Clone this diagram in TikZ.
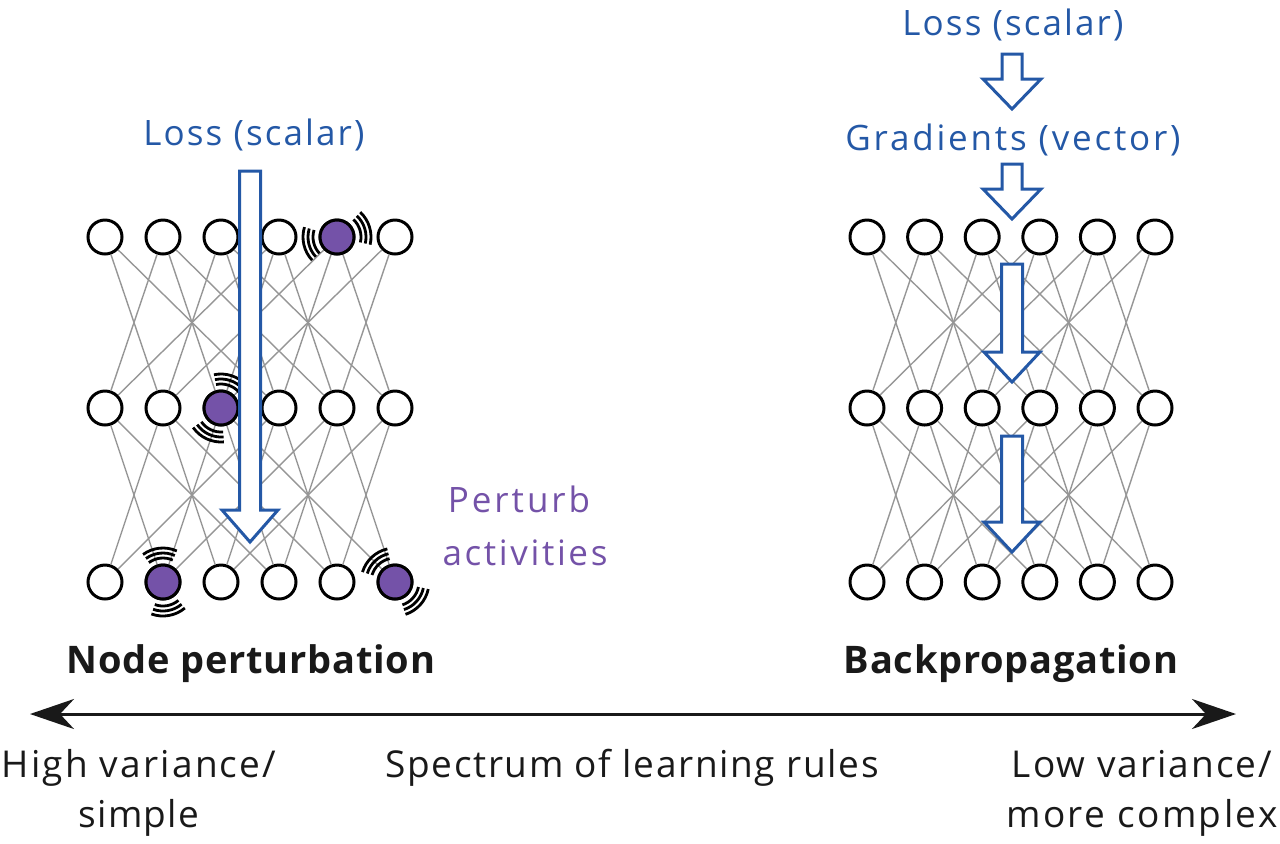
\documentclass[tikz,border=0pt]{standalone}
\usepackage{fontspec}
\setmainfont{Open Sans}
\usetikzlibrary{arrows.meta}
\definecolor{lblue}{RGB}{36,88,166}
\definecolor{purp}{RGB}{116,82,168}
\definecolor{edgegray}{RGB}{150,150,150}
\tikzset{
  neuron/.style={circle,draw=black,line width=1.5pt,fill=white,minimum size=17pt,inner sep=0pt},
  edge/.style={draw=edgegray,line width=0.7pt},
  barrow/.style={draw=lblue,fill=white,line width=1.5pt,line join=miter},
  wave/.style={draw=black,line width=1.4pt},
  lab/.style={anchor=base,inner sep=0pt},
  bluelab/.style={lab,text=lblue,font=\fontsize{17.5}{20}\selectfont\addfontfeature{LetterSpace=#1}},
  purplab/.style={lab,text=purp,font=\fontsize{17.5}{20}\selectfont\addfontfeature{LetterSpace=#1}},
  boldlab/.style={lab,text=black!90,font=\fontsize{19}{24}\bfseries\selectfont\addfontfeature{LetterSpace=#1}},
  axislab/.style={lab,text=black!90,font=\fontsize{18.5}{22}\selectfont\addfontfeature{LetterSpace=#1}},
}
\newcommand\blockarrow[6]{%
  \draw[barrow] (#1-#5,#2) -- (#1+#5,#2) -- (#1+#5,#3) -- (#1+#6,#3) -- (#1,#4) -- (#1-#6,#3) -- (#1-#5,#3) -- cycle;}
\newcommand\wavesat[2]{%
  \foreach \rr in {12,14.5,17}{%
    \draw[wave] (#1.center) ++(#2-30:\rr pt) arc[start angle=#2-30,end angle=#2+30,radius=\rr pt];}}
\begin{document}
\begin{tikzpicture}[x=0.5pt,y=-0.5pt]
\useasboundingbox (0,0) rectangle (1280,843);
% neurons
\foreach \net/\xo/\dx in {L/105/58,R/867/57.6}{
  \foreach \r/\yy in {1/237,2/408,3/582}{
    \foreach \i in {1,...,6}{
      \node[neuron] (\net\r-\i) at ({\xo+(\i-1)*\dx},\yy) {};
    }}}
% connections
\foreach \net in {L,R}{
  \foreach \a/\b in {1/2,2/3}{
    \foreach \i in {1,...,6}{
      \foreach \d in {-3,-1,1,3}{
        \pgfmathtruncatemacro\j{\i+\d}
        \ifnum\j>0 \ifnum\j<7 \draw[edge] (\net\a-\i) -- (\net\b-\j); \fi\fi
      }}}}
% perturbed neurons
\foreach \p in {L1-5,L2-3,L3-2,L3-6}{
  \path[fill=purp,draw=black,line width=1.5pt] (\p.center) circle[radius=8.5pt];}
\wavesat{L1-5}{193}\wavesat{L1-5}{17}
\wavesat{L2-3}{72}\wavesat{L2-3}{245}
\wavesat{L3-2}{96}\wavesat{L3-2}{280}
\wavesat{L3-6}{133}\wavesat{L3-6}{318}
% block arrows
\blockarrow{250}{171}{510}{542}{10.5}{28}
\blockarrow{1012}{54}{79}{109}{10}{29}
\blockarrow{1012}{164}{189}{219}{10}{29}
\blockarrow{1012}{264}{352}{382}{10.5}{28}
\blockarrow{1012}{436}{522}{552}{10.5}{28}
% labels
\node[bluelab=6] (lossL) at (254,145) {Loss (scalar)};
\node[bluelab=6] (lossR) at (1013,35) {Loss (scalar)};
\node[bluelab=8] (grad) at (1013,150) {Gradients (vector)};
\node[purplab=8.5] (pert1) at (519,512) {Perturb};
\node[purplab=7.5] (pert2) at (525,565) {activities};
\node[boldlab=2] (np) at (251,673) {Node perturbation};
\node[boldlab=2] (bp) at (1011,673) {Backpropagation};
% spectrum axis
\coordinate (axL) at (30,714);
\coordinate (axR) at (1236,714);
\draw[line width=1.5pt,black!90,{Stealth[length=22pt,width=15pt,inset=7pt]}-{Stealth[length=22pt,width=15pt,inset=7pt]}] (axL) -- (axR);
\node[axislab=6] (hv1) at (139,777) {High variance/};
\node[axislab=3.5] (hv2) at (139,827) {simple};
\node[axislab=4.5] (spec) at (632,777) {Spectrum of learning rules};
\node[axislab=5.5] (lv1) at (1142,777) {Low variance/};
\node[axislab=6.5] (lv2) at (1142,827) {more complex};
\end{tikzpicture}
\end{document}
